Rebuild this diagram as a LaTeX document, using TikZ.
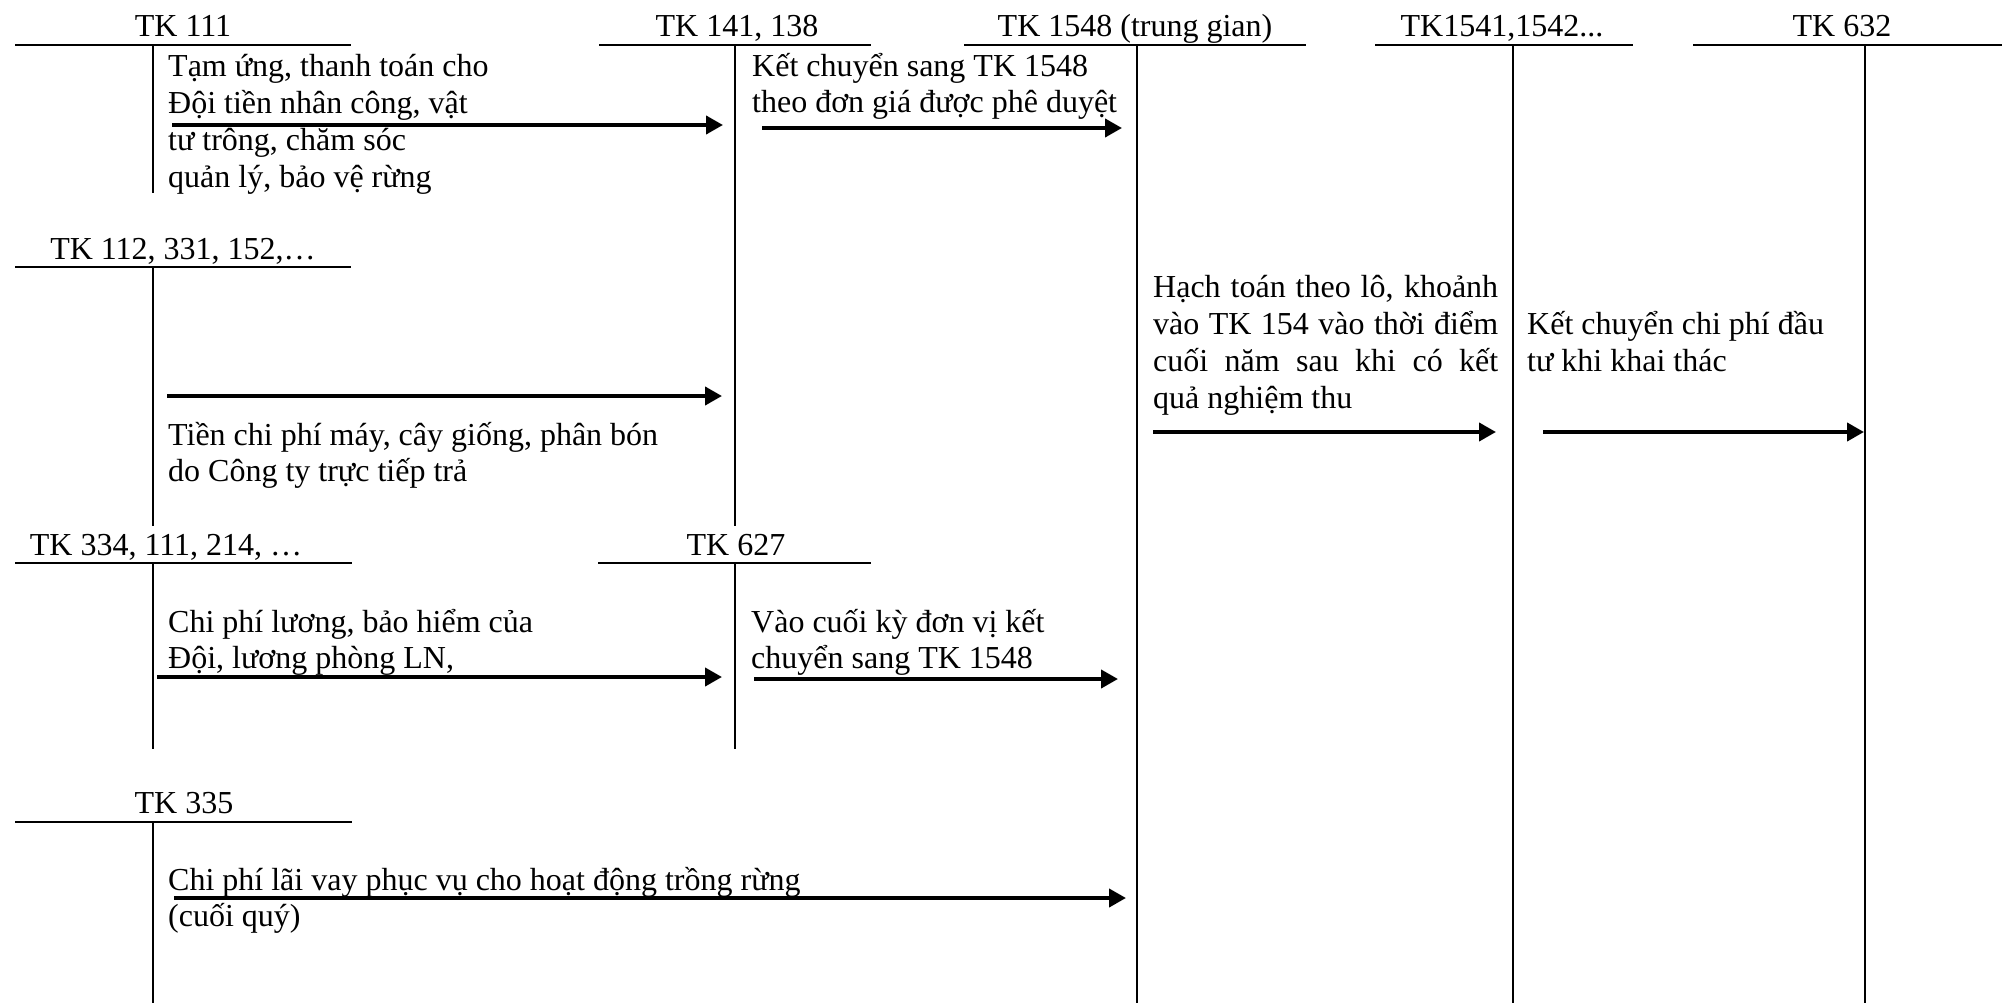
\documentclass[tikz,border=0pt]{standalone}
\usepackage{fontspec}
\setmainfont{Liberation Serif}
\usetikzlibrary{arrows.meta}
\begin{document}
\begin{tikzpicture}[x=1pt,y=-1pt,
  acc/.style={line width=2pt},
  flow/.style={line width=4pt,-{Triangle[length=17pt,width=18pt]}},
  ttl/.style={font=\fontsize{32}{36}\selectfont, inner sep=0pt, anchor=base},
  txt/.style={font=\fontsize{32}{36}\selectfont, inner sep=0pt, align=left, anchor=base west},
]
\useasboundingbox (0,0) rectangle (2002,1003);
\fill[white] (0,0) rectangle (2002,1003);

% ---- account titles ----
\node[ttl] (t111) at (183,37) {TK 111};
\node[ttl] (t141) at (737,37) {TK 141, 138};
\node[ttl] (t1548) at (1135,37) {TK 1548 (trung gian)};
\node[ttl] (t1541) at (1502,37) {TK1541,1542...};
\node[ttl] (t632) at (1842,37) {TK 632};
\node[ttl] (t112) at (183,259) {TK 112, 331, 152,…};
\node[ttl] (t334) at (166,555) {TK 334, 111, 214, …};
\node[ttl] (t627) at (736,555) {TK 627};
\node[ttl] (t335) at (184,813) {TK 335};

% ---- T-account lines ----
\coordinate (h111a) at (15,45);   \coordinate (h111b) at (351,45);
\coordinate (v111a) at (153,45);  \coordinate (v111b) at (153,193);
\coordinate (h141a) at (599,45);  \coordinate (h141b) at (871,45);
\coordinate (v141a) at (735,45);  \coordinate (v141b) at (735,526);
\coordinate (h1548a) at (964,45); \coordinate (h1548b) at (1306,45);
\coordinate (v1548a) at (1137,45);\coordinate (v1548b) at (1137,1003);
\coordinate (h1541a) at (1375,45);\coordinate (h1541b) at (1633,45);
\coordinate (v1541a) at (1513,45);\coordinate (v1541b) at (1513,1003);
\coordinate (h632a) at (1693,45); \coordinate (h632b) at (2002,45);
\coordinate (v632a) at (1865,45); \coordinate (v632b) at (1865,1003);
\coordinate (h112a) at (15,267);  \coordinate (h112b) at (351,267);
\coordinate (v112a) at (153,267); \coordinate (v112b) at (153,526);
\coordinate (h334a) at (15,563);  \coordinate (h334b) at (352,563);
\coordinate (v334a) at (153,563); \coordinate (v334b) at (153,749);
\coordinate (h627a) at (598,563); \coordinate (h627b) at (871,563);
\coordinate (v627a) at (735,563); \coordinate (v627b) at (735,749);
\coordinate (h335a) at (15,822);  \coordinate (h335b) at (352,822);
\coordinate (v335a) at (153,822); \coordinate (v335b) at (153,1003);

\foreach \k in {111,141,1548,1541,632,112,334,627,335}{
  \draw[acc] (h\k a) -- (h\k b);
  \draw[acc] (v\k a) -- (v\k b);
}

% ---- texts (anchor = baseline of the last line) ----
\node[txt,font=\fontsize{32}{37}\selectfont] (x1) at (168,188) {Tạm ứng, thanh toán cho\\Đội tiền nhân công, vật\\tư trông, chăm sóc\\quản lý, bảo vệ rừng};
\node[txt] (x2) at (752,113) {Kết chuyển sang TK 1548\\theo đơn giá được phê duyệt};
\node[txt] (x3) at (168,481) {Tiền chi phí máy, cây giống, phân bón\\do Công ty trực tiếp trả};
\node[txt] (x4) at (168,668) {Chi phí lương, bảo hiểm của\\Đội, lương phòng LN,};
\node[txt] (x5) at (751,668) {Vào cuối kỳ đơn vị kết\\chuyển sang TK 1548};
\node[txt] (x6) at (168,926) {Chi phí lãi vay phục vụ cho hoạt động trồng rừng\\(cuối quý)};
\node[txt,font=\fontsize{32}{37}\selectfont] (x7) at (1153,408) {\makebox[345pt][s]{Hạch toán theo lô, khoảnh}\\\makebox[345pt][s]{vào TK 154 vào thời điểm}\\\makebox[345pt][s]{cuối năm sau khi có kết}\\quả nghiệm thu};
\node[txt,font=\fontsize{32}{37}\selectfont] (x8) at (1527,371) {Kết chuyển chi phí đầu\\tư khi khai thác};

% ---- arrows ----
\coordinate (a1s) at (172,125);  \coordinate (a1e) at (723,125);
\coordinate (a2s) at (762,128);  \coordinate (a2e) at (1122,128);
\coordinate (a3s) at (167,396);  \coordinate (a3e) at (722,396);
\coordinate (a4s) at (157,677);  \coordinate (a4e) at (722,677);
\coordinate (a5s) at (754,679);  \coordinate (a5e) at (1118,679);
\coordinate (a6s) at (174,898);  \coordinate (a6e) at (1126,898);
\coordinate (a7s) at (1153,432); \coordinate (a7e) at (1496,432);
\coordinate (a8s) at (1543,432); \coordinate (a8e) at (1864,432);
\foreach \k in {1,...,8}{
  \draw[flow] (a\k s) -- (a\k e);
}
\end{tikzpicture}
\end{document}
